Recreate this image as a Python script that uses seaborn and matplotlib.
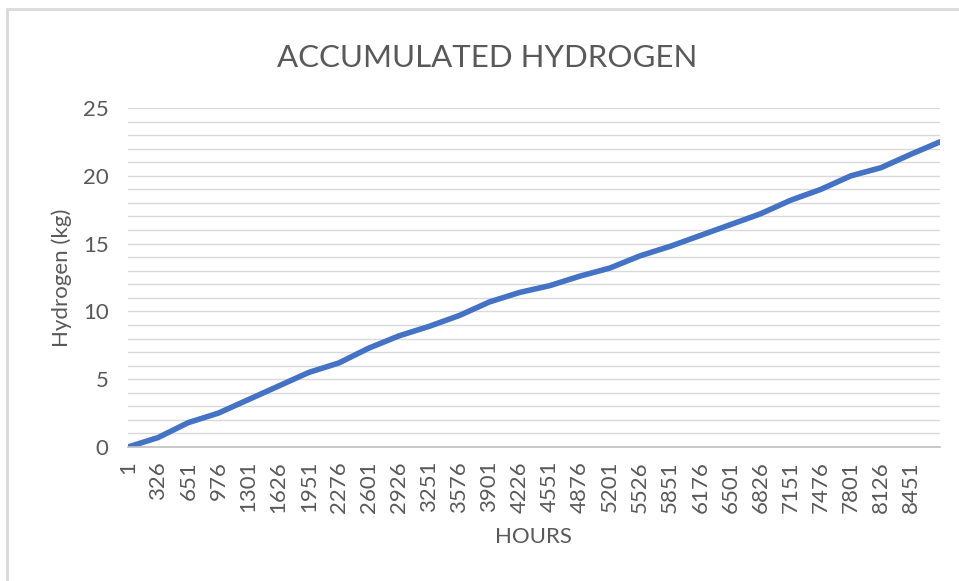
import pandas as pd
import matplotlib.pyplot as plt
import seaborn as sns
from matplotlib.lines import Line2D

# Accumulated hydrogen at each labelled hour
hours = [1, 326, 651, 976, 1301, 1626, 1951, 2276, 2601, 2926, 3251, 3576, 3901, 4226,
         4551, 4876, 5201, 5526, 5851, 6176, 6501, 6826, 7151, 7476, 7801, 8126, 8451, 8760]
hydrogen_kg = [0.0, 0.7, 1.8, 2.5, 3.5, 4.5, 5.5, 6.2, 7.3, 8.2, 8.9, 9.7, 10.7, 11.4,
               11.9, 12.6, 13.2, 14.1, 14.8, 15.6, 16.4, 17.2, 18.2, 19.0, 20.0, 20.6, 21.6, 22.5]
tick_hours = hours[:-1]

df = pd.DataFrame({"hours": hours, "hydrogen": hydrogen_kg})

sns.set_style("white")
plt.rcParams["font.family"] = ["Lato", "DejaVu Sans"]
text_color = "#595959"

fig = plt.figure(figsize=(9.59, 5.81), dpi=100)
ax = fig.add_axes([0.1335, 0.2306, 0.8465, 0.5835])

sns.lineplot(data=df, x="hours", y="hydrogen", ax=ax, color="#4472C4", linewidth=4)

ax.set_xlim(1, 8760)
ax.set_ylim(0, 25)
ax.set_xticks(tick_hours)
ax.set_xticklabels([str(h) for h in tick_hours], rotation=90)
ax.set_yticks(range(0, 26, 5))
ax.set_yticks(range(0, 26), minor=True)
ax.grid(True, which="both", axis="y", color="#D9D9D9", linewidth=1)
ax.set_axisbelow(True)
ax.tick_params(axis="both", which="both", length=0, labelsize=16, colors=text_color)
ax.tick_params(axis="y", pad=14)
ax.tick_params(axis="x", pad=10)

for side in ["top", "right", "left"]:
    ax.spines[side].set_visible(False)
ax.spines["bottom"].set_color("#BFBFBF")
ax.spines["bottom"].set_linewidth(1.2)

ax.set_xlabel("HOURS", fontsize=16, color=text_color, labelpad=10)
ax.set_ylabel("Hydrogen (kg)", fontsize=16, color=text_color, labelpad=8)
fig.text(0.508, 0.9, "ACCUMULATED HYDROGEN", fontsize=22.5, color=text_color,
         ha="center", va="center")

# chart border like the spreadsheet frame
fig.add_artist(Line2D([7 / 959, 7 / 959], [0, 1 - 9 / 581], color="#D9D9D9", linewidth=2,
                      transform=fig.transFigure))
fig.add_artist(Line2D([7 / 959, 1], [1 - 9 / 581, 1 - 9 / 581], color="#D9D9D9", linewidth=2,
                      transform=fig.transFigure))

fig.savefig("out.png", dpi=100)
